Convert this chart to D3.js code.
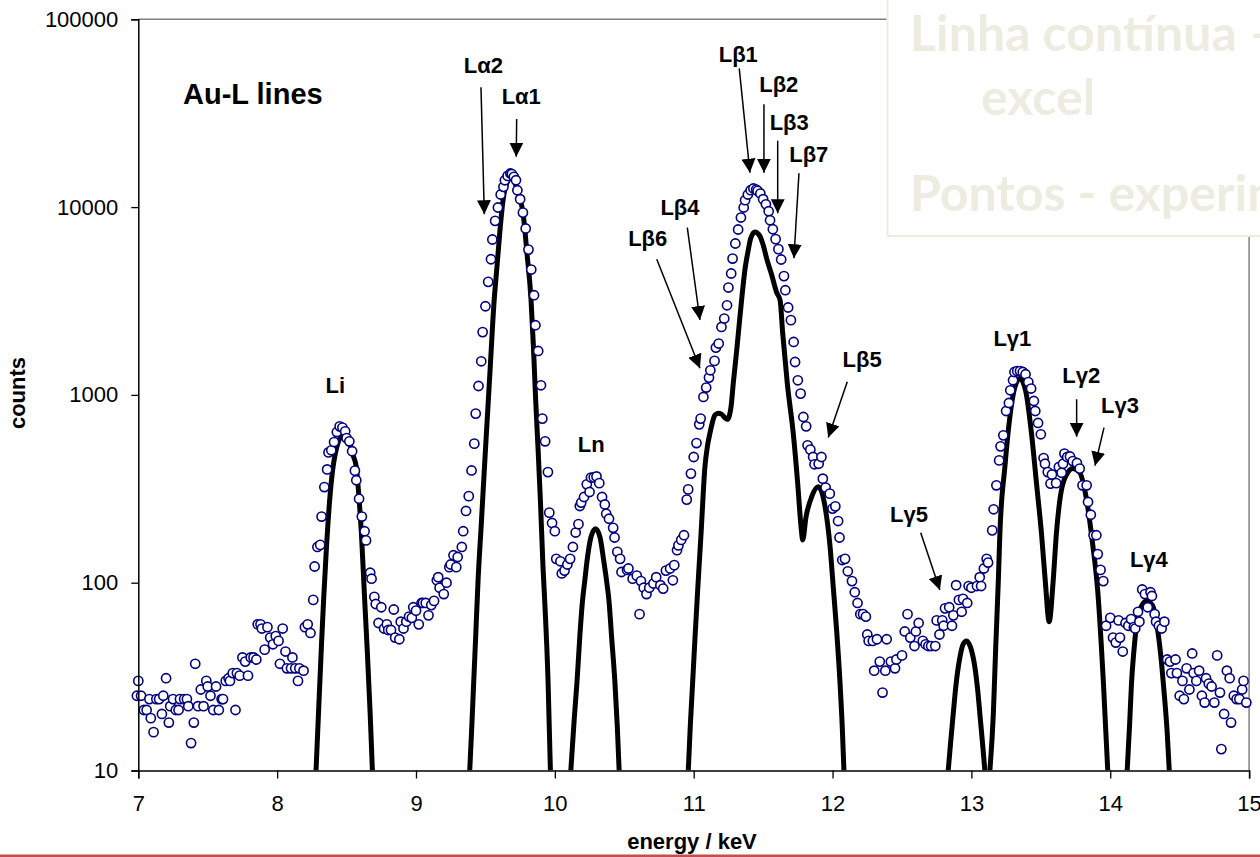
<!DOCTYPE html>
<html>
<head>
<meta charset="utf-8">
<script src="https://cdn.jsdelivr.net/npm/d3@7"></script>
<style>
  body { margin: 0; background: #fff; }
  svg { display: block; font-family: "Liberation Sans", Arial, sans-serif; }
</style>
</head>
<body>
<div id="chart"></div>
<script>
// axis ticks
const xTicks = [7, 8, 9, 10, 11, 12, 13, 14, 15];
const yTicks = [10, 100, 1000, 10000, 100000];

// experimental points (energy / keV, counts)
const expEnergy = [
  6.99, 7.00, 7.02, 7.04, 7.06, 7.08, 7.09, 7.11, 7.13, 7.15, 7.17, 7.18, 7.20, 7.22, 7.23, 7.25, 7.27, 7.29, 7.30, 7.33,
  7.35, 7.36, 7.38, 7.40, 7.41, 7.43, 7.45, 7.47, 7.49, 7.50, 7.52, 7.54, 7.56, 7.58, 7.60, 7.61, 7.63, 7.65, 7.66, 7.68,
  7.70, 7.71, 7.73, 7.75, 7.77, 7.79, 7.81, 7.83, 7.85, 7.86, 7.88, 7.89, 7.91, 7.93, 7.95, 7.97, 7.99, 8.01, 8.02, 8.04,
  8.06, 8.07, 8.10, 8.11, 8.13, 8.15, 8.16, 8.19, 8.20, 8.22, 8.24, 8.26, 8.27, 8.29, 8.31, 8.32, 8.34, 8.36, 8.37, 8.39,
  8.41, 8.43, 8.45, 8.47, 8.49, 8.50, 8.52, 8.54, 8.56, 8.57, 8.59, 8.61, 8.63, 8.64, 8.67, 8.68, 8.70, 8.71, 8.73, 8.75,
  8.77, 8.79, 8.80, 8.82, 8.84, 8.85, 8.88, 8.89, 8.91, 8.93, 8.95, 8.97, 8.98, 9.00, 9.02, 9.04, 9.05, 9.07, 9.09, 9.11,
  9.13, 9.15, 9.16, 9.17, 9.20, 9.22, 9.24, 9.25, 9.27, 9.29, 9.30, 9.33, 9.34, 9.36, 9.38, 9.40, 9.42, 9.43, 9.45, 9.47,
  9.48, 9.50, 9.52, 9.54, 9.55, 9.57, 9.59, 9.61, 9.63, 9.64, 9.66, 9.68, 9.69, 9.705, 9.72, 9.73, 9.75, 9.77, 9.79, 9.81,
  9.83, 9.85, 9.86, 9.88, 9.90, 9.91, 9.93, 9.95, 9.96, 9.98, 10.00, 10.01, 10.04, 10.05, 10.07, 10.09, 10.11, 10.13, 10.15, 10.17,
  10.18, 10.19, 10.21, 10.23, 10.25, 10.26, 10.28, 10.30, 10.32, 10.34, 10.36, 10.37, 10.39, 10.42, 10.43, 10.45, 10.47, 10.48, 10.52, 10.53,
  10.56, 10.59, 10.61, 10.62, 10.64, 10.66, 10.68, 10.71, 10.73, 10.76, 10.78, 10.80, 10.83, 10.85, 10.86, 10.88, 10.89, 10.91, 10.93, 10.95,
  10.96, 10.98, 11.00, 11.02, 11.04, 11.05, 11.07, 11.09, 11.11, 11.12, 11.15, 11.16, 11.18, 11.20, 11.22, 11.24, 11.25, 11.27, 11.28, 11.30,
  11.32, 11.34, 11.36, 11.37, 11.39, 11.41, 11.43, 11.45, 11.46, 11.48, 11.50, 11.52, 11.54, 11.55, 11.57, 11.59, 11.61, 11.63, 11.65, 11.66,
  11.68, 11.70, 11.72, 11.73, 11.75, 11.77, 11.79, 11.81, 11.82, 11.84, 11.86, 11.87, 11.90, 11.92, 11.93, 11.95, 11.98, 12.00, 12.02, 12.04,
  12.05, 12.07, 12.09, 12.11, 12.14, 12.16, 12.18, 12.20, 12.22, 12.24, 12.25, 12.26, 12.29, 12.30, 12.32, 12.34, 12.36, 12.38, 12.39, 12.42,
  12.45, 12.46, 12.50, 12.52, 12.54, 12.56, 12.59, 12.60, 12.62, 12.65, 12.67, 12.69, 12.71, 12.74, 12.75, 12.77, 12.79, 12.80, 12.81, 12.84,
  12.86, 12.87, 12.89, 12.91, 12.93, 12.94, 12.97, 12.98, 13.00, 13.04, 13.06, 13.07, 13.09, 13.11, 13.12, 13.15, 13.16, 13.18, 13.20, 13.21,
  13.23, 13.25, 13.27, 13.28, 13.30, 13.31, 13.33, 13.35, 13.37, 13.39, 13.41, 13.43, 13.45, 13.46, 13.48, 13.50, 13.52, 13.53, 13.55, 13.57,
  13.58, 13.61, 13.63, 13.65, 13.66, 13.67, 13.69, 13.71, 13.73, 13.76, 13.78, 13.80, 13.83, 13.84, 13.86, 13.88, 13.90, 13.91, 13.93, 13.95,
  13.97, 14.00, 14.02, 14.04, 14.06, 14.07, 14.09, 14.11, 14.13, 14.15, 14.17, 14.18, 14.20, 14.21, 14.23, 14.25, 14.27, 14.29, 14.30, 14.32,
  14.33, 14.35, 14.37, 14.39, 14.41, 14.43, 14.44, 14.47, 14.48, 14.50, 14.52, 14.53, 14.55, 14.57, 14.59, 14.60, 14.62, 14.64, 14.66, 14.68,
  14.69, 14.71, 14.73, 14.75, 14.77, 14.79, 14.80, 14.82, 14.84, 14.86, 14.87, 14.89, 14.91, 14.93, 14.95, 14.96, 14.98
];
const expCounts = [
  25, 30, 25, 21, 21, 24, 19, 16, 24, 24, 20, 25, 31, 18, 22, 24, 21, 21, 24, 24,
  24, 22, 14, 18, 37, 22, 27, 22, 30, 28, 25, 21, 28, 21, 24, 24, 30, 31, 30, 33,
  21, 33, 32, 40, 38, 32, 40, 40, 39, 60, 60, 57, 44, 58, 51, 47, 52, 49, 37, 57,
  43, 35, 35, 40, 35, 30, 35, 34, 58, 60, 54, 81, 122, 155, 159, 225, 323, 401, 494, 507,
  561, 634, 680, 670, 640, 589, 566, 501, 395, 351, 280, 225, 188, 168, 113, 105, 84, 77, 61, 74,
  57, 60, 56, 56, 72, 51, 50, 62, 57, 62, 66, 65, 74, 71, 60, 78, 78, 78, 67, 76,
  80, 103, 107, 94, 87, 100, 121, 125, 140, 121, 137, 155, 188, 241, 289, 396, 550, 795, 1115, 1510,
  2160, 2965, 4000, 5275, 6720, 8450, 9950, 11670, 12820, 13900, 14660, 15100, 15000, 14500, 13900, 12300, 11020, 9350, 7690, 5940,
  4650, 3395, 2350, 1714, 1125, 748, 566, 388, 236, 208, 188, 134, 130, 112, 116, 125, 134, 155, 185, 205,
  256, 267, 286, 334, 304, 363, 364, 368, 339, 286, 261, 233, 219, 196, 174, 146, 134, 114, 117, 119,
  105, 109, 68, 102, 94, 87, 94, 99, 107, 97, 93, 116, 119, 103, 124, 149, 158, 169, 179, 277,
  314, 381, 467, 554, 697, 748, 975, 1094, 1236, 1352, 1517, 1786, 1877, 2300, 2550, 3000, 3730, 4430, 5320, 6400,
  7600, 8800, 9950, 10880, 11670, 12300, 12560, 12400, 12200, 11810, 11020, 10350, 9510, 8510, 7620, 6750, 5970, 5260, 4290, 3610,
  2920, 2500, 1914, 1497, 1196, 1016, 763, 680, 539, 511, 467, 427, 430, 467, 358, 321, 298, 248, 255, 213,
  174, 132, 134, 115, 102, 89, 78, 68, 68, 66, 53, 49, 49, 34, 50, 38, 26, 34, 50, 38,
  35, 39, 41, 55, 68, 51, 46, 55, 61, 49, 47, 46, 46, 46, 63, 53, 63, 59, 73, 74,
  59, 67, 97, 81, 70, 82, 78, 96, 94, 96, 107, 96, 119, 134, 128, 190, 246, 330, 448, 532,
  609, 821, 906, 1058, 1196, 1324, 1340, 1340, 1324, 1288, 1171, 1081, 928, 821, 709, 617, 461, 430, 388, 337,
  377, 339, 413, 385, 430, 487, 467, 470, 444, 434, 405, 330, 330, 269, 230, 179, 179, 142, 117, 102,
  59, 65, 51, 48, 63, 51, 43, 61, 59, 64, 58, 57, 70, 62, 92, 87, 74, 89, 85, 68,
  62, 59, 57, 62, 39, 38, 33, 39, 33, 25, 30, 24, 35, 27, 42, 33, 30, 34, 25, 23,
  31, 29, 28, 23, 41, 26, 13, 20, 34, 31, 18, 25, 24, 24, 27, 30, 23
];

// fitted curve (excel), one piece per peak group, [energy, counts]
const fitLi = [[8.28, 10], [8.30, 22], [8.32, 48], [8.335, 82], [8.354, 149], [8.378, 274], [8.40, 400], [8.414, 467],
  [8.44, 560], [8.465, 600], [8.486, 605], [8.51, 580], [8.53, 530], [8.55, 470], [8.57, 413], [8.59, 280],
  [8.607, 182], [8.63, 82], [8.65, 42], [8.67, 20], [8.686, 10]];
const fitLa = [[9.387, 10], [9.40, 16], [9.416, 30], [9.43, 52], [9.447, 103], [9.47, 204], [9.50, 507], [9.53, 1220],
  [9.563, 3190], [9.585, 5000], [9.603, 7260], [9.627, 10900], [9.655, 13500], [9.685, 14300], [9.715, 13300],
  [9.74, 11500], [9.771, 9290], [9.80, 5600], [9.828, 3250], [9.845, 1850], [9.862, 935], [9.88, 500], [9.896, 274],
  [9.915, 120], [9.927, 80], [9.951, 30], [9.968, 10]];
const fitLn = [[10.115, 10], [10.14, 19], [10.16, 30], [10.18, 52], [10.199, 80], [10.216, 103], [10.232, 131],
  [10.26, 175], [10.293, 194], [10.325, 175], [10.352, 131], [10.372, 103], [10.39, 80], [10.41, 50], [10.432, 30],
  [10.45, 17], [10.463, 10]];
const fitLb = [[10.961, 10], [10.975, 17], [10.993, 30], [11.01, 52], [11.03, 95], [11.053, 183], [11.081, 415],
  [11.10, 540], [11.117, 625], [11.135, 715], [11.153, 781], [11.177, 798], [11.20, 790], [11.225, 755], [11.245, 741],
  [11.258, 780], [11.269, 865], [11.285, 1153], [11.31, 1734], [11.333, 2606], [11.345, 3200], [11.37, 4700],
  [11.393, 5910], [11.41, 6800], [11.441, 7380], [11.475, 7050], [11.50, 6300], [11.526, 5300], [11.56, 4400],
  [11.598, 3500], [11.622, 3200], [11.641, 2130], [11.674, 1153], [11.717, 625], [11.749, 338], [11.773, 199],
  [11.785, 169], [11.809, 224], [11.85, 287], [11.897, 324], [11.946, 254], [11.982, 156], [12.005, 95],
  [12.03, 55], [12.053, 30], [12.07, 17], [12.082, 10]];
const fitLg5 = [[12.833, 10], [12.85, 14], [12.869, 20], [12.89, 29], [12.917, 40], [12.94, 47], [12.965, 49],
  [12.995, 45], [13.025, 35.5], [13.045, 27], [13.061, 20], [13.08, 14], [13.097, 10]];
const fitLg = [[13.133, 10], [13.158, 20], [13.175, 45], [13.194, 103], [13.205, 182], [13.241, 413], [13.277, 763],
  [13.313, 1101], [13.349, 1222], [13.39, 1058], [13.433, 622], [13.469, 337], [13.505, 182], [13.533, 100],
  [13.56, 62], [13.588, 100], [13.612, 182], [13.648, 310], [13.696, 388], [13.73, 405], [13.778, 388],
  [13.826, 286], [13.87, 168], [13.91, 90], [13.95, 30], [13.982, 10]];
const fitLg4 = [[14.122, 10], [14.14, 18], [14.154, 30], [14.17, 43], [14.19, 60], [14.225, 75], [14.26, 80],
  [14.29, 78], [14.31, 74], [14.34, 57], [14.37, 37], [14.39, 25], [14.41, 16], [14.425, 10]];
const fitSegments = [fitLi, fitLa, fitLn, fitLb, fitLg5, fitLg, fitLg4];

// line labels, placed at [energy, counts] (text centre, baseline)
const lineNames = ["Li", "Lα2", "Lα1", "Ln", "Lβ1", "Lβ2", "Lβ3", "Lβ7", "Lβ4", "Lβ6", "Lβ5",
  "Lγ5", "Lγ1", "Lγ2", "Lγ3", "Lγ4"];
const lineLabelAt = [[8.419, 1028], [9.485, 51550], [9.758, 35260], [10.262, 499], [11.321, 59430],
  [11.613, 41140], [11.688, 25760], [11.829, 17450], [10.901, 9080], [10.669, 6210], [12.213, 1413],
  [12.550, 211], [13.295, 1820], [13.791, 1153], [14.070, 798], [14.278, 121.7]];

// arrows from label to line position
const arrowFrom = [[9.468, 43450], [9.725, 29450], [11.328, 54830], [11.506, 35260], [11.605, 22580],
  [11.758, 15140], [10.954, 7770], [10.734, 5280], [12.106, 1175], [12.635, 184.6], [13.758, 948], [13.955, 669]];
const arrowTo = [[9.492, 9160], [9.722, 18550], [11.405, 15240], [11.506, 15240], [11.605, 9270],
  [11.722, 5340], [11.045, 2505], [11.045, 1386], [11.969, 594], [12.773, 91.4], [13.758, 599], [13.890, 420]];

const width = 1260, height = 857;
const plot = { left: 138.3, right: 1249.1, top: 19.3, bottom: 770.5 };

const svg = d3.select("#chart")
  .append("svg")
  .attr("width", width)
  .attr("height", height);

const x = d3.scaleLinear().domain([7, 15]).range([plot.left, plot.right]);
const y = d3.scaleLog().domain([10, 100000]).range([plot.bottom, plot.top]);

svg.append("defs")
  .append("clipPath")
  .attr("id", "plot-clip")
  .append("rect")
  .attr("x", plot.left)
  .attr("y", plot.top)
  .attr("width", plot.right - plot.left)
  .attr("height", plot.bottom - plot.top);

svg.select("defs")
  .append("marker")
  .attr("id", "head")
  .attr("viewBox", "0 0 10 10")
  .attr("refX", 10)
  .attr("refY", 5)
  .attr("markerWidth", 14)
  .attr("markerHeight", 14)
  .attr("markerUnits", "userSpaceOnUse")
  .attr("orient", "auto")
  .append("path")
  .attr("d", "M0,0 L10,5 L0,10 Z")
  .attr("fill", "#000");

// plot frame (grey top / right)
svg.append("path")
  .attr("d", `M${plot.left},${plot.top} H${plot.right} V${plot.bottom}`)
  .attr("fill", "none")
  .attr("stroke", "#808080")
  .attr("stroke-width", 1.5);

// fitted curve
const line = d3.line()
  .x(d => x(d[0]))
  .y(d => y(d[1]))
  .curve(d3.curveMonotoneX);

svg.append("g")
  .attr("clip-path", "url(#plot-clip)")
  .selectAll("path")
  .data(fitSegments)
  .join("path")
  .attr("d", line)
  .attr("fill", "none")
  .attr("stroke", "#000")
  .attr("stroke-width", 5)
  .attr("stroke-linejoin", "round");

// experimental points
svg.append("g")
  .selectAll("circle")
  .data(expEnergy)
  .join("circle")
  .attr("cx", d => x(d))
  .attr("cy", (d, i) => y(expCounts[i]))
  .attr("r", 4.6)
  .attr("fill", "#fff")
  .attr("stroke", "#000080")
  .attr("stroke-width", 1.6);

// axes
const xAxis = svg.append("g")
  .attr("transform", `translate(0,${plot.bottom})`)
  .call(d3.axisBottom(x).tickValues(xTicks).tickSize(8).tickPadding(17).tickFormat(d3.format("d")));

const yAxis = svg.append("g")
  .attr("transform", `translate(${plot.left},0)`)
  .call(d3.axisLeft(y).tickValues(yTicks).tickSize(7).tickPadding(13).tickFormat(d3.format("d")));

[xAxis, yAxis].forEach(g => {
  g.attr("font-family", null).attr("font-size", null);
  g.select(".domain").attr("stroke", "#000").attr("stroke-width", 1.5);
  g.selectAll(".tick line").attr("stroke", "#000").attr("stroke-width", 1.3);
  g.selectAll(".tick text").attr("fill", "#000").style("font-size", "22px");
});

// axis titles
svg.append("text")
  .attr("x", 692)
  .attr("y", 849)
  .attr("text-anchor", "middle")
  .style("font-size", "22px")
  .style("font-weight", "bold")
  .text("energy / keV");

svg.append("text")
  .attr("transform", "translate(25,393) rotate(-90)")
  .attr("text-anchor", "middle")
  .style("font-size", "22px")
  .style("font-weight", "bold")
  .text("counts");

svg.append("text")
  .attr("x", x(7.322))
  .attr("y", y(35400))
  .style("font-size", "29px")
  .style("font-weight", "bold")
  .text("Au-L lines");

// line labels
svg.append("g")
  .selectAll("text")
  .data(lineNames)
  .join("text")
  .attr("x", (d, i) => x(lineLabelAt[i][0]))
  .attr("y", (d, i) => y(lineLabelAt[i][1]))
  .attr("text-anchor", "middle")
  .style("font-size", "22px")
  .style("font-weight", "bold")
  .text(d => d);

// arrows
svg.append("g")
  .selectAll("line")
  .data(arrowFrom)
  .join("line")
  .attr("x1", d => x(d[0]))
  .attr("y1", d => y(d[1]))
  .attr("x2", (d, i) => x(arrowTo[i][0]))
  .attr("y2", (d, i) => y(arrowTo[i][1]))
  .attr("stroke", "#000")
  .attr("stroke-width", 1.5)
  .attr("marker-end", "url(#head)");

// faded note box, top right
const note = svg.append("g");
note.append("rect")
  .attr("x", 887.5)
  .attr("y", -5)
  .attr("width", 420)
  .attr("height", 241)
  .attr("fill", "#fff")
  .attr("stroke", "#EEECE1")
  .attr("stroke-width", 2);

const noteLines = [["Linha contínua –", 910, 51], ["excel", 981, 115], ["Pontos - experimental", 910, 211]];
note.selectAll("text")
  .data(noteLines)
  .join("text")
  .attr("x", d => d[1])
  .attr("y", d => d[2])
  .attr("fill", "#EEECE1")
  .style("font-family", "Lato, 'Open Sans', sans-serif")
  .style("font-size", "50px")
  .style("font-weight", "bold")
  .text(d => d[0]);

// red rule at the bottom of the slide
svg.append("line")
  .attr("x1", 0)
  .attr("x2", width)
  .attr("y1", 855.8)
  .attr("y2", 855.8)
  .attr("stroke", "#C0504D")
  .attr("stroke-width", 2.5);
</script>
</body>
</html>
